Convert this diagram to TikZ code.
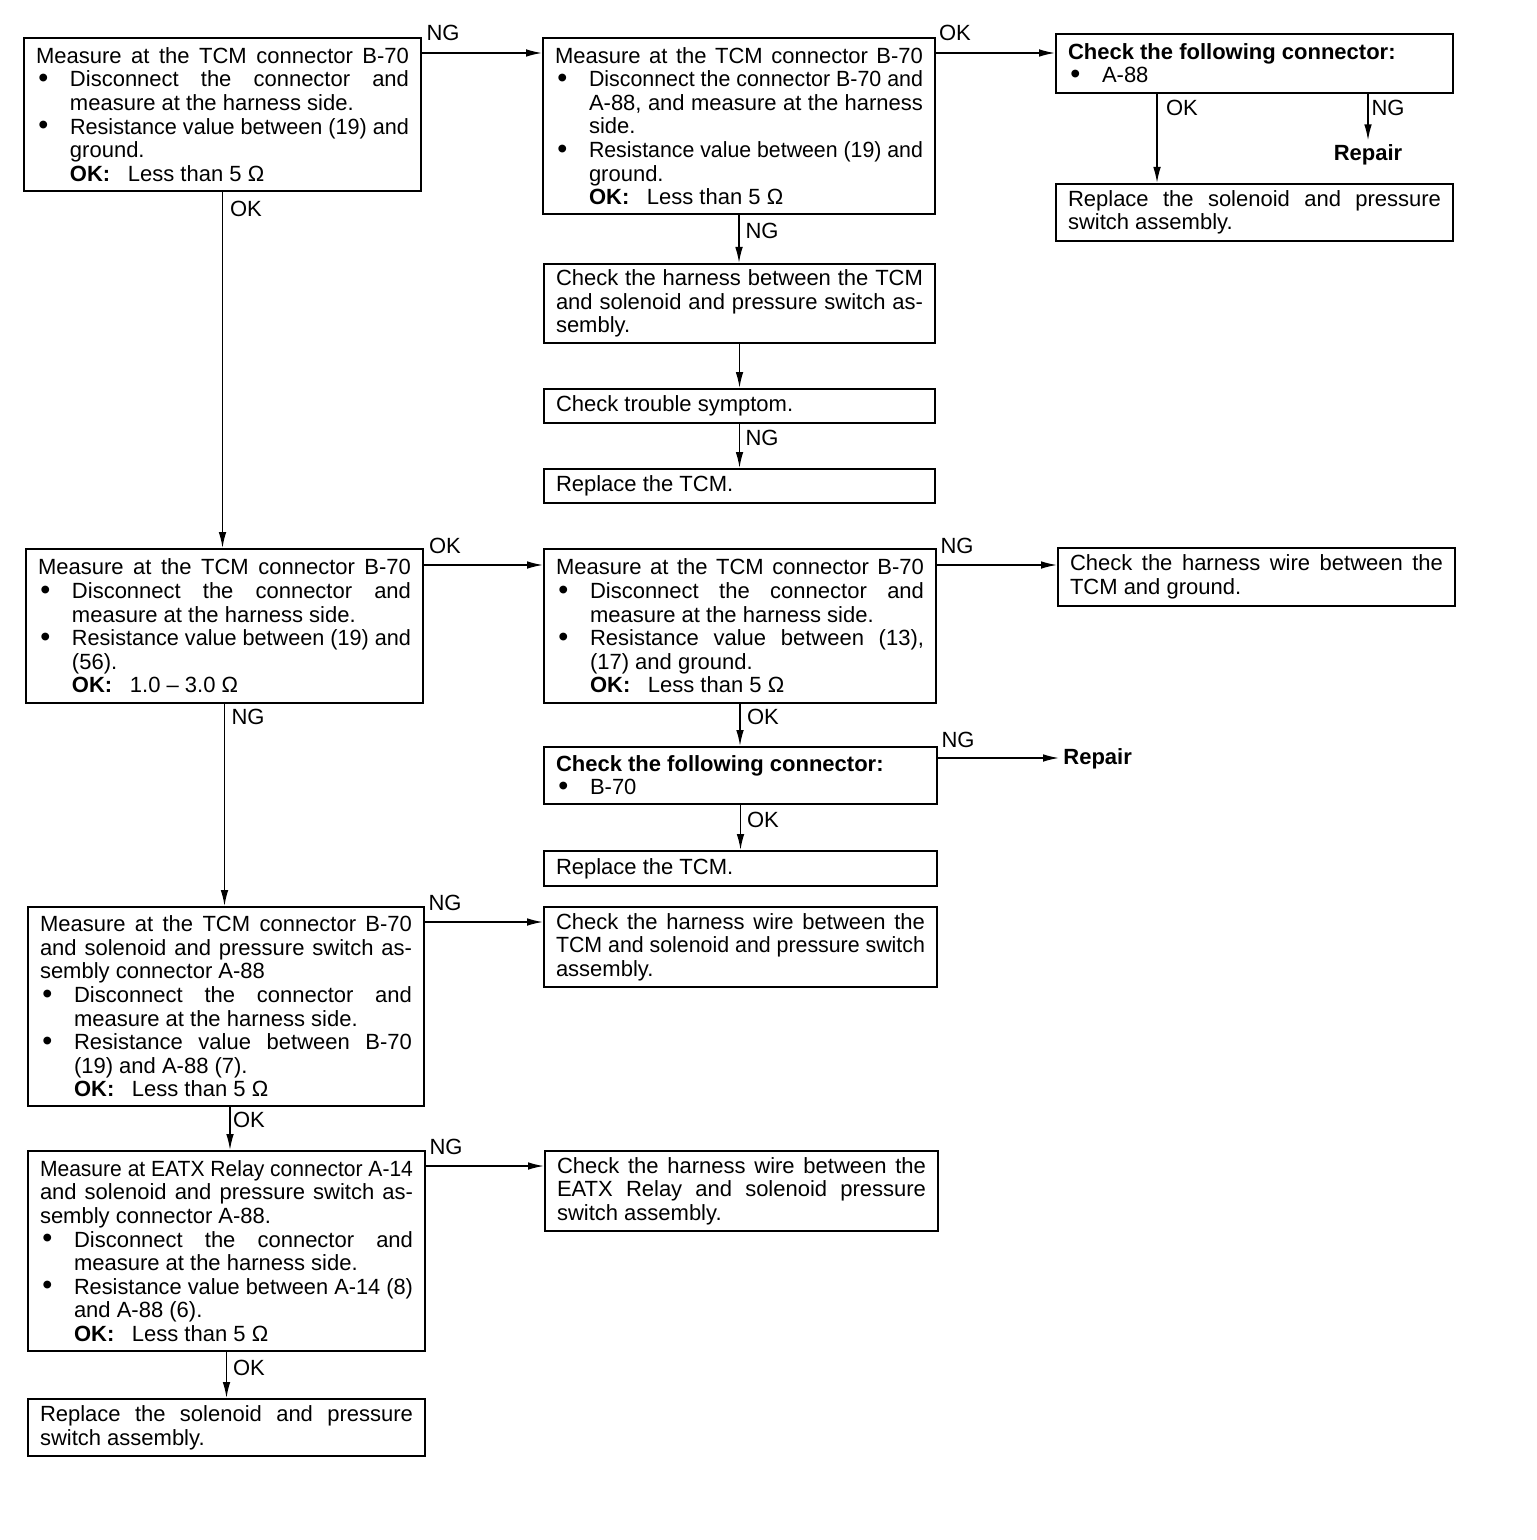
\documentclass[tikz,border=0pt]{standalone}
\usepackage{fontspec}
\setmainfont{Liberation Sans}
\usepackage{graphicx}
\usetikzlibrary{arrows.meta}

\newdimen\jlw
\newcommand\jline[2][\linewidth]{\jlw=#1\relax\setbox0\hbox{#2}\ifdim\wd0>\jlw\resizebox{\jlw}{\height}{#2}\else\makebox[\jlw][s]{#2}\fi}
\newcommand\bline[1]{\makebox[17pt][l]{\hspace{1.2pt}\raisebox{-0.3pt}{\scalebox{1.3}{\textbullet}}}#1}
\newcommand\bjline[1]{\bline{\jline[\dimexpr\linewidth-17pt\relax]{#1}}}
\newcommand\iline[1]{\hspace*{17pt}#1}
\newcommand\ijline[1]{\iline{\jline[\dimexpr\linewidth-17pt\relax]{#1}}}
\newcommand\okk{\textbf{OK:}\hspace{0.8em}}

\tikzset{
  box/.style={draw, line width=1pt, inner sep=0pt, anchor=north west,
    font=\fontsize{11pt}{11.8pt}\selectfont},
  lbl/.style={inner sep=0pt, font=\fontsize{11pt}{11.8pt}\selectfont},
  rep/.style={inner sep=2pt, font=\fontsize{11pt}{11.8pt}\selectfont\bfseries},
  arr/.style={line width=0.75pt, -{Latex[length=8pt,width=3.8pt]}}
}

\newcommand\mkbox[6]{%
  \pgfmathsetlengthmacro\bw{(#4-#2)*0.5pt}%
  \pgfmathsetlengthmacro\bh{(#5-#3)*0.5pt}%
  \pgfmathsetlengthmacro\tw{(#4-#2-24)*0.5pt}%
  \node[box, minimum width=\bw, minimum height=\bh] (#1) at (#2,#3)
    {\parbox{\tw}{\baselineskip=11.8pt\lineskiplimit=-5pt #6}};}

\begin{document}
\begin{tikzpicture}[x=0.5pt,y=-0.5pt]
\useasboundingbox (0,0) rectangle (1536,1540);

% ---------- boxes ----------
\mkbox{A}{23}{37}{420}{190}{%
\jline{Measure at the TCM connector B-70}\\
\bjline{Disconnect the connector and}\\
\iline{measure at the harness side.}\\
\bjline{Resistance value between (19) and}\\
\iline{ground.}\\
\iline{\okk Less than 5 Ω}}

\mkbox{B}{542}{37}{934}{213}{%
\jline{Measure at the TCM connector B-70}\\
\bjline{Disconnect the connector B-70 and}\\
\ijline{A-88, and measure at the harness}\\
\iline{side.}\\
\bjline{Resistance value between (19) and}\\
\iline{ground.}\\
\iline{\okk Less than 5 Ω}}

\mkbox{C}{1055}{33}{1452}{92}{%
\textbf{Check the following connector:}\\
\bline{A-88}}

\mkbox{D}{1055}{183}{1452}{240}{%
\jline{Replace the solenoid and pressure}\\
switch assembly.}

\mkbox{E}{543}{263}{934}{342}{%
\jline{Check the harness between the TCM}\\
\jline{and solenoid and pressure switch as-}\\
sembly.}

\mkbox{F}{543}{388}{934}{422}{Check trouble symptom.}

\mkbox{G}{543}{468}{934}{502}{Replace the TCM.}

\mkbox{H}{25}{548}{422}{702}{%
\jline{Measure at the TCM connector B-70}\\
\bjline{Disconnect the connector and}\\
\iline{measure at the harness side.}\\
\bjline{Resistance value between (19) and}\\
\iline{(56).}\\
\iline{\okk 1.0 – 3.0 Ω}}

\mkbox{I}{543}{548}{935}{702}{%
\jline{Measure at the TCM connector B-70}\\
\bjline{Disconnect the connector and}\\
\iline{measure at the harness side.}\\
\bjline{Resistance value between (13),}\\
\iline{(17) and ground.}\\
\iline{\okk Less than 5 Ω}}

\mkbox{J}{1057}{547}{1454}{605}{%
\jline{Check the harness wire between the}\\
TCM and ground.}

\mkbox{K}{543}{746}{936}{803}{%
\textbf{Check the following connector:}\\
\bline{B-70}}

\mkbox{L}{543}{850}{936}{885}{Replace the TCM.}

\mkbox{M}{27}{906}{423}{1105}{%
\jline{Measure at the TCM connector B-70}\\
\jline{and solenoid and pressure switch as-}\\
sembly connector A-88\\
\bjline{Disconnect the connector and}\\
\iline{measure at the harness side.}\\
\bjline{Resistance value between B-70}\\
\iline{(19) and A-88 (7).}\\
\iline{\okk Less than 5 Ω}}

\mkbox{N}{543}{906}{936}{986}{%
\jline{Check the harness wire between the}\\
\jline{TCM and solenoid and pressure switch}\\
assembly.}

\mkbox{O}{27}{1150}{424}{1350}{%
\jline{Measure at EATX Relay connector A-14}\\
\jline{and solenoid and pressure switch as-}\\
sembly connector A-88.\\
\bjline{Disconnect the connector and}\\
\iline{measure at the harness side.}\\
\bjline{Resistance value between A-14 (8)}\\
\iline{and A-88 (6).}\\
\iline{\okk Less than 5 Ω}}

\mkbox{P}{544}{1150}{937}{1230}{%
\jline{Check the harness wire between the}\\
\jline{EATX Relay and solenoid pressure}\\
switch assembly.}

\mkbox{Q}{27}{1398}{424}{1455}{%
\jline{Replace the solenoid and pressure}\\
switch assembly.}

% ---------- repair end points ----------
\node[rep] (R1) at (1368,155) {Repair};
\node[rep, anchor=west] (R2) at (1059,759) {Repair};

% ---------- connectors ----------
\draw[arr] ([yshift=-8pt]A.north east) coordinate (tAB) -- (tAB -| B.west);
\draw[arr] ([yshift=-8pt]B.north east) coordinate (tBC) -- (tBC -| C.west);
\draw[arr] ([xshift=51pt]C.south west) coordinate (tCD) -- (tCD |- D.north);
\draw[arr] (C.south -| R1.north) -- (R1.north);
\draw[arr] (B.south) -- (B.south |- E.north);
\draw[arr] (E.south) -- (E.south |- F.north);
\draw[arr] (F.south) -- (F.south |- G.north);
\draw[arr] (A.south) -- (A.south |- H.north);
\draw[arr] ([yshift=-8.5pt]H.north east) coordinate (tHI) -- (tHI -| I.west);
\draw[arr] ([yshift=-8.5pt]I.north east) coordinate (tIJ) -- (tIJ -| J.west);
\draw[arr] (I.south) -- (I.south |- K.north);
\draw[arr] ([yshift=-6pt]K.north east) coordinate (tKR) -- (tKR -| R2.west);
\draw[arr] (K.south) -- (K.south |- L.north);
\draw[arr] (H.south) -- (H.south |- M.north);
\draw[arr] ([yshift=-8pt]M.north east) coordinate (tMN) -- (tMN -| N.west);
\draw[arr] ([xshift=2pt]M.south) coordinate (tMO) -- (tMO |- O.north);
\draw[arr] ([yshift=-8pt]O.north east) coordinate (tOP) -- (tOP -| P.west);
\draw[arr] (O.south) -- (O.south |- Q.north);

% ---------- connector labels ----------
\node[lbl] (lAB) at (443,33) {NG};
\node[lbl] (lBC) at (955,33) {OK};
\node[lbl] (lCD) at (1182,108) {OK};
\node[lbl] (lCR) at (1388,108) {NG};
\node[lbl] (lBE) at (762,231) {NG};
\node[lbl] (lFG) at (762,438) {NG};
\node[lbl] (lAH) at (246,209) {OK};
\node[lbl] (lHI) at (445,546) {OK};
\node[lbl] (lIJ) at (957,546) {NG};
\node[lbl] (lIK) at (763,717) {OK};
\node[lbl] (lKR) at (958,740) {NG};
\node[lbl] (lKL) at (763,820) {OK};
\node[lbl] (lHM) at (248,717) {NG};
\node[lbl] (lMN) at (445,903) {NG};
\node[lbl] (lMO) at (249,1120) {OK};
\node[lbl] (lOP) at (446,1147) {NG};
\node[lbl] (lOQ) at (249,1368) {OK};
\end{tikzpicture}
\end{document}
